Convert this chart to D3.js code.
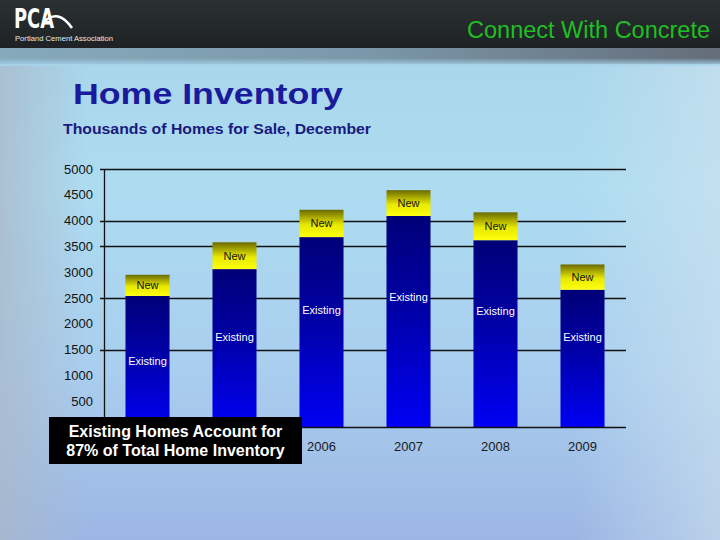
<!DOCTYPE html>
<html><head><meta charset="utf-8">
<script src="https://cdn.jsdelivr.net/npm/d3@7"></script>
<style>html,body{margin:0;padding:0;overflow:hidden;background:#fff}</style>
</head><body><svg id="c" width="720" height="540" xmlns="http://www.w3.org/2000/svg"></svg>
<script>
// ---- data ----
const years = ["2004", "2005", "2006", "2007", "2008", "2009"];
const existing = [2540, 3060, 3680, 4090, 3620, 2660];
const newHomes = [410, 520, 530, 500, 540, 490];
const existingLabelAt = [1270, 1750, 2270, 2510, 2250, 1750];
const yTickLabels = [500, 1000, 1500, 2000, 2500, 3000, 3500, 4000, 4500, 5000];
const gridValues = [1500, 2500, 3500, 4000, 5000];
const titleText = "Home Inventory";
const subtitleText = "Thousands of Homes for Sale, December";
const noteLines = ["Existing Homes Account for", "87% of Total Home Inventory"];

const svg = d3.select("#c");
const defs = svg.append("defs");
const FONT = "Arial, 'Liberation Sans', Helvetica, sans-serif";

// gradients
function lin(id, x1, y1, x2, y2, stops) {
  const g = defs.append("linearGradient").attr("id", id)
    .attr("x1", x1).attr("y1", y1).attr("x2", x2).attr("y2", y2);
  stops.forEach(s => g.append("stop").attr("offset", s[0]).attr("stop-color", s[1]).attr("stop-opacity", s[2] == null ? 1 : s[2]));
}
lin("bodyV", 0, 0, 0, 1, [[0, "#a7d3e9"], [0.35, "#addcf1"], [0.7, "#a9cdee"], [1, "#9cb6e4"]]);
lin("bodyL", 0, 0, 1, 0, [[0, "#aab8c8", 0.75], [0.12, "#aab8c8", 0], [0.8, "#d0e4f0", 0], [1, "#d0e2ee", 0.6]]);
lin("head", 0, 0, 0, 1, [[0, "#2b3033"], [1, "#1e2225"]]);
lin("strip", 0, 0, 1, 0, [[0, "#86aabb"], [0.5, "#7b98aa"], [1, "#646d79"]]);
lin("stripFade", 0, 0, 0, 1, [[0, "#a7d3e9", 0], [1, "#a7d3e9", 1]]);
lin("gExist", 0, 0, 0, 1, [[0, "#000078"], [0.45, "#0000a8"], [1, "#0000f4"]]);
lin("gNew", 0, 0, 0, 1, [[0, "#6a6a00"], [0.55, "#e8e800"], [1, "#ffff10"]]);

// background
svg.append("rect").attr("x", 0).attr("y", 0).attr("width", 720).attr("height", 540).attr("fill", "url(#bodyV)");
svg.append("rect").attr("x", 0).attr("y", 0).attr("width", 720).attr("height", 540).attr("fill", "url(#bodyL)");
svg.append("rect").attr("x", 0).attr("y", 48).attr("width", 720).attr("height", 16).attr("fill", "url(#strip)");
svg.append("rect").attr("x", 0).attr("y", 58).attr("width", 720).attr("height", 8).attr("fill", "url(#stripFade)");
svg.append("rect").attr("x", 0).attr("y", 0).attr("width", 720).attr("height", 48).attr("fill", "url(#head)");

// logo
const logo = svg.append("g");
logo.append("text").attr("x", 14).attr("y", 28).attr("fill", "#fff")
  .attr("font-family", "'Liberation Sans Narrow', 'DejaVu Sans Condensed', Arial, sans-serif")
  .attr("font-size", 27).attr("font-weight", "bold")
  .attr("textLength", 40).attr("lengthAdjust", "spacingAndGlyphs").text("PCA");
logo.append("path").attr("d", "M44,22 Q58,8 72,28").attr("fill", "none").attr("stroke", "#fff").attr("stroke-width", 2.5);
logo.append("text").attr("x", 15).attr("y", 41).attr("fill", "#e8e8e8")
  .attr("font-family", FONT).attr("font-size", 7.5)
  .attr("textLength", 98).attr("lengthAdjust", "spacingAndGlyphs").text("Portland Cement Association");

svg.append("text").attr("x", 710).attr("y", 38).attr("text-anchor", "end")
  .attr("fill", "#1fbf24").attr("font-family", FONT).attr("font-size", 23.5).text("Connect With Concrete");

// titles
svg.append("text").attr("x", 73).attr("y", 104).attr("fill", "#1a1a9c")
  .attr("font-family", FONT).attr("font-size", 30).attr("font-weight", "bold")
  .attr("textLength", 270).attr("lengthAdjust", "spacingAndGlyphs").text(titleText);
svg.append("text").attr("x", 63).attr("y", 133.5).attr("fill", "#1a1a80")
  .attr("font-family", FONT).attr("font-size", 14).attr("font-weight", "bold")
  .attr("textLength", 308).attr("lengthAdjust", "spacingAndGlyphs").text(subtitleText);

// scales
const x = d3.scaleBand().domain(years).range([104, 626]).paddingInner(0.494).paddingOuter(0.247);
const y = d3.scaleLinear().domain([0, 5000]).range([427, 169]);

// gridlines
svg.append("g").selectAll("line").data(gridValues).join("line")
  .attr("x1", 100).attr("x2", 626)
  .attr("y1", d => Math.round(y(d)) + 0.5).attr("y2", d => Math.round(y(d)) + 0.5)
  .attr("stroke", "#111").attr("stroke-width", 1.3);

// bars
const rows = years.map((yr, i) => ({ yr, ex: existing[i], nw: newHomes[i], lab: existingLabelAt[i] }));
const bars = svg.append("g");
bars.selectAll("rect.ex").data(rows).join("rect").attr("class", "ex")
  .attr("x", d => x(d.yr)).attr("width", x.bandwidth())
  .attr("y", d => y(d.ex)).attr("height", d => y(0) - y(d.ex))
  .attr("fill", "url(#gExist)");
bars.selectAll("rect.nw").data(rows).join("rect").attr("class", "nw")
  .attr("x", d => x(d.yr)).attr("width", x.bandwidth())
  .attr("y", d => y(d.ex + d.nw)).attr("height", d => y(d.ex) - y(d.ex + d.nw))
  .attr("fill", "url(#gNew)");

// segment labels
bars.selectAll("text.nl").data(rows).join("text").attr("class", "nl")
  .attr("x", d => x(d.yr) + x.bandwidth() / 2)
  .attr("y", d => y(d.ex + d.nw / 2)).attr("dy", "0.35em")
  .attr("text-anchor", "middle").attr("fill", "#111")
  .attr("font-family", FONT).attr("font-size", 11).text("New");
bars.selectAll("text.el").data(rows).join("text").attr("class", "el")
  .attr("x", d => x(d.yr) + x.bandwidth() / 2)
  .attr("y", d => y(d.lab)).attr("dy", "0.35em")
  .attr("text-anchor", "middle").attr("fill", "#fff")
  .attr("font-family", FONT).attr("font-size", 11).text("Existing");

// axes
const yAxis = svg.append("g").attr("transform", "translate(104,0)")
  .call(d3.axisLeft(y).tickValues(yTickLabels).tickFormat(d3.format("d")).tickSize(0).tickPadding(11));
yAxis.select(".domain").remove();
yAxis.selectAll("text").attr("font-family", FONT).attr("font-size", 13).attr("fill", "#111");

svg.append("line").attr("x1", 104.5).attr("x2", 104.5).attr("y1", y(5000)).attr("y2", y(0))
  .attr("stroke", "#111").attr("stroke-width", 1.3);
svg.append("line").attr("x1", 100).attr("x2", 626).attr("y1", y(0) + 0.5).attr("y2", y(0) + 0.5)
  .attr("stroke", "#111").attr("stroke-width", 1.3);

const xAxis = svg.append("g").attr("transform", "translate(0,427)")
  .call(d3.axisBottom(x).tickSize(0).tickPadding(15));
xAxis.select(".domain").remove();
xAxis.selectAll("text").attr("font-family", FONT).attr("font-size", 13).attr("fill", "#1a1a1a");

// note box (covers the first two year labels, as in the reference)
const note = svg.append("g");
note.append("rect").attr("x", 49).attr("y", 417).attr("width", 253).attr("height", 47).attr("fill", "#000");
note.selectAll("text").data(noteLines).join("text")
  .attr("x", 175.5).attr("y", (d, i) => 437 + i * 19)
  .attr("text-anchor", "middle").attr("fill", "#fff")
  .attr("font-family", FONT).attr("font-size", 16).attr("font-weight", "bold").text(d => d);
</script></body></html>
